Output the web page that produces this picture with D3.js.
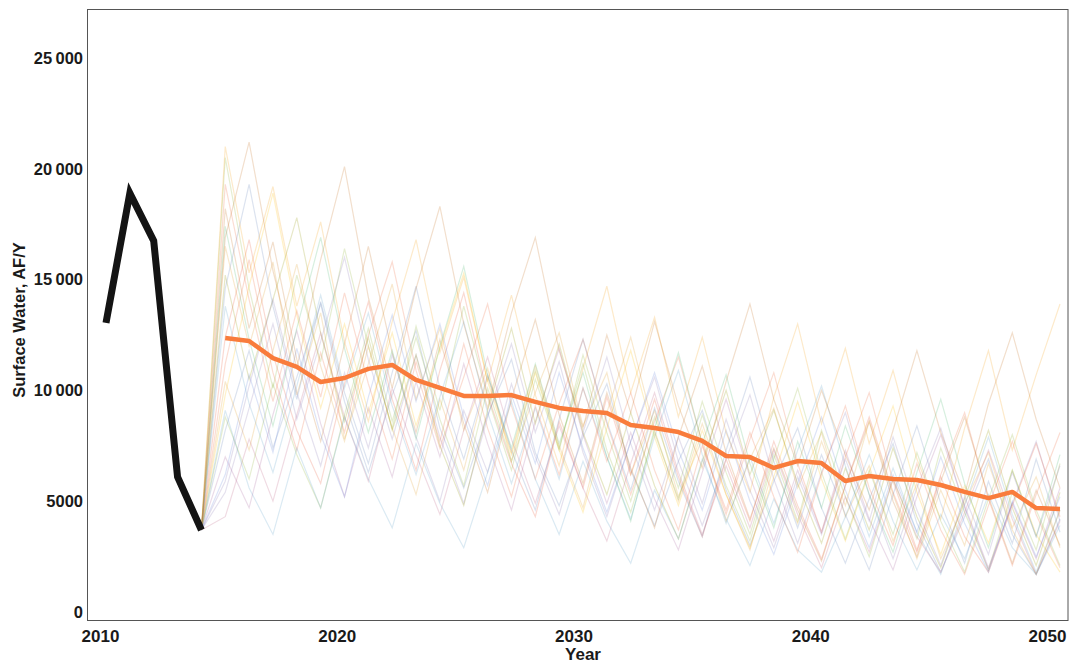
<!DOCTYPE html>
<html><head><meta charset="utf-8">
<script src="https://cdn.jsdelivr.net/npm/d3@7"></script>
<style>
body{margin:0;background:#fff}
text{font-family:"Liberation Sans",Arial,sans-serif;font-weight:bold;fill:#1a1a1a}
</style>
</head><body>
<svg id="chart" width="1071" height="669"></svg>
<script>
// ---------- data ----------
const histYears = [2010, 2011, 2012, 2013, 2014];
const histValues = [13050, 18900, 16750, 6100, 3700];

const simYears = [2015,2016,2017,2018,2019,2020,2021,2022,2023,2024,2025,2026,2027,2028,2029,2030,2031,2032,2033,2034,2035,2036,2037,2038,2039,2040,2041,2042,2043,2044,2045,2046,2047,2048,2049,2050];

const meanValues = [12360,12230,11460,11060,10380,10560,10970,11150,10470,10110,9750,9750,9790,9480,9210,9070,8980,8440,8300,8120,7720,7040,6990,6500,6810,6720,5910,6140,6000,5960,5730,5420,5140,5420,4690,4650];

const sim01 = [16500,12000,15800,9800,13500,7800,11200,14800,9600,12800,8200,11000,6800,9900,12600,8400,10800,6200,9100,5200,7800,4100,6900,9200,5600,8100,4300,6600,3200,5800,2400,4900,7200,3800,6100,2900];
const sim02 = [8200,11800,7400,10600,13900,9500,6300,9800,12700,8300,5600,8900,11400,7200,4800,7900,10300,6400,3900,6800,9100,5500,3000,5900,8300,4700,2200,5100,7600,4000,1800,4300,6900,3500,1700,4200];
const sim03 = [20500,14600,10100,15200,11300,16400,12000,8300,12900,9100,13800,9700,6400,10500,7300,11600,8100,5000,8800,5600,9500,6300,3500,7100,4100,8200,5200,2500,6000,3300,7400,4500,1900,5400,2800,6700];
const sim04 = [11200,15900,10800,7300,11700,8100,12500,15800,10900,7400,10600,13900,9300,6000,9400,12300,8500,5300,8600,11500,7600,4400,7800,10800,6700,3600,7000,9900,5900,2800,6200,9000,5100,2100,5300,8100];
const sim05 = [5400,9200,13000,8700,12200,16000,11400,7800,11600,7900,4900,8800,12100,8100,11300,7200,4300,7700,10600,6800,3900,6900,9800,6000,3100,6300,9000,5300,2400,5600,8300,4700,1900,4900,7700,4100];
const sim06 = [18200,12800,16700,11400,7700,12100,16500,11700,8100,12300,8500,5400,9600,13200,8900,5800,9900,6500,3800,7900,11100,7200,4200,7400,4600,2300,5700,8600,5000,2500,5900,8800,5200,2200,5500,3000];
const sim07 = [13800,9400,6300,10200,14300,10100,13500,9300,6200,9700,13100,9000,5800,9200,6000,10100,7000,4200,7900,10900,7100,4000,7000,4000,7300,10200,6600,3400,6500,3600,1700,4800,7900,4400,1800,4600];
const sim08 = [9800,14700,18900,13400,9200,13000,9000,12600,8400,11900,15300,10400,7100,10800,7300,4500,8300,11800,7900,4800,8200,5300,2900,6100,9500,6000,3200,6300,9300,5400,2600,5700,3100,6400,3500,1800];
const sim09 = [7000,4700,8900,12700,8500,5200,9200,6100,10400,7000,11200,7600,4600,8600,11900,8000,4900,8100,5100,2800,6300,9600,6100,3200,6400,3600,7300,4200,1900,5200,8000,4800,2000,4900,2400,5600];
const sim10 = [15200,10500,14100,17800,12600,8600,12400,8200,11600,7500,4800,9100,12800,8500,12100,8100,5300,9000,5700,3300,6800,10000,6200,9100,5800,3100,6500,3700,7400,4300,2000,5100,8200,4700,2100,5400];
const sim11 = [12400,16800,11600,8200,5800,10300,14000,9600,6400,10900,14400,9800,6700,4300,8600,5600,9700,6200,9600,6100,3400,6900,4100,7700,4800,2400,5700,8800,5400,2700,6100,3400,1800,4800,7600,4300];
const sim12 = [6200,10700,7200,11900,8000,5200,9700,13400,9500,13000,8800,5700,9800,6700,10800,7400,4500,7700,10800,7300,4600,8200,5000,2600,5800,8800,5500,2900,6200,3600,7000,4000,1800,5000,2500,5200];
const sim13 = [21000,15300,19200,13800,17600,12200,8600,13100,16800,11700,15100,10400,14300,9800,6600,11000,14700,9900,13300,8800,12400,8100,5400,9700,13000,8500,11900,7600,10900,6900,4200,8300,11800,7300,10700,13900];
const sim14 = [4300,7800,5000,8900,12600,8800,5900,10100,7100,4400,8200,11500,7800,4900,8400,5600,3200,6700,9900,6300,3500,6600,3800,7300,4400,2000,5200,2700,6000,3400,1800,4500,7300,4200,1700,4100];
const sim15 = [17400,12300,8400,12800,16900,11900,8100,11800,7800,12000,15600,10700,7400,11200,7600,10800,7000,4100,8300,11700,7600,10700,6700,3800,7700,4700,8400,5300,2700,6300,9600,5800,2900,6400,3400,7100];
const sim16 = [10400,7300,11800,15700,11100,7700,12000,8300,5300,9600,6400,10600,7200,11100,7500,4700,9000,12400,8200,5000,8500,5300,2800,6600,4000,7700,4800,8600,5300,2400,5500,3000,6700,3700,1700,4600];
const sim17 = [14600,19300,13800,9600,14000,9900,6700,10800,14700,10100,6900,10700,7300,4600,8700,12300,8600,5500,9200,5900,3400,7300,10600,6800,3800,7100,4400,1900,5300,8400,4900,2200,5900,3100,6900,3600];
const sim18 = [8800,6000,10300,7100,4700,8900,12800,8600,12400,8700,5700,10100,6800,10900,7400,11200,7300,4500,8100,5100,8900,5700,3200,6900,10100,6300,3300,6400,3500,7200,4100,1800,5100,8000,4600,2100];
const sim19 = [19300,14100,9500,13600,9700,14400,10300,6900,11300,7700,12100,8300,5200,9300,6200,10100,6800,9900,6400,3700,7500,4600,8100,5200,2700,6200,9300,5600,3000,6700,3700,1700,4800,7700,4400,2000];
const sim20 = [5900,10200,14100,9900,6600,10800,7400,11600,7900,5000,9100,6300,10300,7000,4400,8100,11500,7600,4600,7900,4900,8700,5500,2900,6100,3500,6900,4100,7900,4600,2100,5200,2600,6300,3400,6600];
const sim21 = [16900,21200,15400,11000,15900,20100,14200,10100,14600,18300,13000,9200,13500,16900,11800,8300,12500,9000,13100,9300,6500,10400,13900,9600,6600,10000,7100,4600,8200,11800,8100,5300,9400,12600,8700,5600];
const sim22 = [9100,5600,3500,7400,4700,8800,6000,3800,7600,4900,2900,6300,9500,6000,3500,6800,4100,2200,5500,3300,6900,4200,2100,5100,2800,1800,4300,7100,4100,1900,4400,2400,5300,2900,1700,3900];

const simRuns = [sim01,sim02,sim03,sim04,sim05,sim06,sim07,sim08,sim09,sim10,sim11,sim12,sim13,sim14,sim15,sim16,sim17,sim18,sim19,sim20,sim21,sim22];

const xTickValues = [2010, 2020, 2030, 2040, 2050];
const xTickLabels = ["2010", "2020", "2030", "2040", "2050"];
const yTickValues = [0, 5000, 10000, 15000, 20000, 25000];
const yTickLabels = ["0", "5000", "10\u2009000", "15\u2009000", "20\u2009000", "25\u2009000"];

// ---------- drawing ----------
const runColors = ["#E19C24","#5E81B5","#8FB032","#EB6235","#8778B3","#C56E1A","#5D9EC7","#FFBF00","#A5609D","#929600","#E95536","#6685D9","#F89F13","#BC5B80","#47B66D"];

const svg = d3.select("#chart");
svg.append("rect").attr("width",1071).attr("height",669).attr("fill","#fff");

const x = d3.scaleLinear().domain([2010, 2050]).range([106, 1060]);
const xLabel = d3.scaleLinear().domain([2010, 2050]).range([100, 1047]);
const y = d3.scaleLinear().domain([0, 25000]).range([612, 58]);

const line = d3.line().x(d => x(d[0])).y(d => y(d[1]));

// simulation runs (start from last historical point)
const startPt = [histYears[histYears.length-1], histValues[histValues.length-1]];
const runsG = svg.append("g");
simRuns.forEach((run, i) => {
  const pts = [startPt].concat(simYears.map((yr, j) => [yr, run[j]]));
  runsG.append("path")
    .attr("d", line(pts))
    .attr("fill", "none")
    .attr("stroke", runColors[i % runColors.length])
    .attr("stroke-opacity", 0.22)
    .attr("stroke-width", 1.2);
});

// historical (black)
svg.append("path")
  .attr("d", line(histYears.map((yr, j) => [yr, histValues[j]])))
  .attr("fill", "none")
  .attr("stroke", "#141414")
  .attr("stroke-width", 7)
  .attr("stroke-linejoin", "miter")
  .attr("stroke-miterlimit", 10);

// mean (orange)
svg.append("path")
  .attr("d", line(simYears.map((yr, j) => [yr, meanValues[j]])))
  .attr("fill", "none")
  .attr("stroke", "#F97C3C")
  .attr("stroke-width", 4.5)
  .attr("stroke-linejoin", "round");

// frame
svg.append("rect")
  .attr("x", 87.5).attr("y", 9.5)
  .attr("width", 980.5).attr("height", 611)
  .attr("fill", "none").attr("stroke", "#555").attr("stroke-width", 1);

// y axis labels
const yAxis = svg.append("g").attr("transform", "translate(87,0)")
  .call(d3.axisLeft(y).tickValues(yTickValues)
        .tickFormat((d, i) => yTickLabels[i]).tickSize(0).tickPadding(4));
yAxis.select(".domain").remove();
yAxis.selectAll("text")
  .style("font-size", "16.5px")
  .style("font-family", "'Liberation Sans',Arial,sans-serif")
  .style("font-weight", "bold")
  .attr("fill", (d, i) => i === 0 ? "#8a8a8a" : "#1a1a1a");

// x axis labels
const xAxis = svg.append("g").attr("transform", "translate(0,620)")
  .call(d3.axisBottom(xLabel).tickValues(xTickValues)
        .tickFormat((d, i) => xTickLabels[i]).tickSize(0));
xAxis.select(".domain").remove();
xAxis.selectAll("text")
  .attr("y", 10).attr("dy", "0.71em")
  .style("font-size", "17px")
  .style("font-family", "'Liberation Sans',Arial,sans-serif")
  .style("font-weight", "bold")
  .attr("fill", "#1a1a1a");

// axis titles
svg.append("text")
  .attr("x", 583).attr("y", 660)
  .attr("text-anchor", "middle")
  .style("font-size", "17px")
  .text("Year");

svg.append("text")
  .attr("transform", "translate(25,320) rotate(-90)")
  .attr("text-anchor", "middle")
  .style("font-size", "16.5px")
  .text("Surface Water, AF/Y");
</script>
</body></html>
